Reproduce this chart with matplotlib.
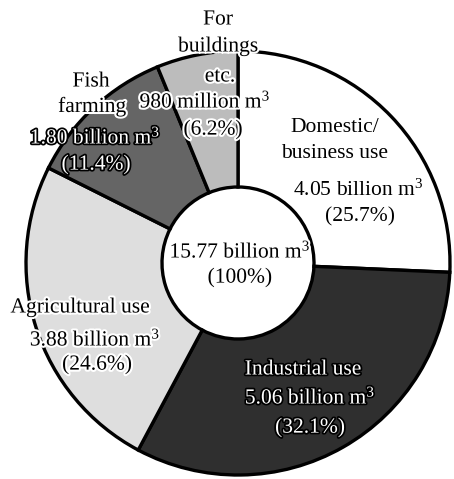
import matplotlib.pyplot as plt
import matplotlib.patheffects as pe

plt.rcParams['font.family'] = ['Liberation Serif', 'DejaVu Serif']
plt.rcParams['mathtext.fontset'] = 'custom'
plt.rcParams['mathtext.rm'] = 'Liberation Serif'
plt.rcParams['mathtext.it'] = 'Liberation Serif:italic'

# water use, billion m3, clockwise from the top
categories = ['Domestic/\nbusiness use', 'Industrial use', 'Agricultural use',
              'Fish\nfarming', 'For\nbuildings\netc.']
amounts = ['4.05 billion m$^3$', '5.06 billion m$^3$', '3.88 billion m$^3$',
           '1.80 billion m$^3$', '980 million m$^3$']
shares = [25.7, 32.1, 24.6, 11.4, 6.2]
colors = ['#ffffff', '#2f2f2f', '#dedede', '#656565', '#bcbcbc']
total_label = '15.77 billion m$^3$'
total_share = '(100%)'

W, H = 454, 479
fig = plt.figure(figsize=(W / 100, H / 100), dpi=100)
ax = fig.add_axes([0, 0, 1, 1])
ax.set_xlim(0, W)
ax.set_ylim(0, H)
ax.set_aspect('equal')
ax.axis('off')

cx, cy = 238, H - 263
r_out, r_in = 212, 76
ax.pie(shares, colors=colors, startangle=90, counterclock=False,
       center=(cx, cy), radius=r_out, frame=True,
       wedgeprops=dict(width=r_out - r_in, edgecolor='black', linewidth=2.4))
ax.set_xlim(0, W)
ax.set_ylim(0, H)
ax.axis('off')

halo = [pe.withStroke(linewidth=3, foreground='white')]
dark = [pe.withStroke(linewidth=2.5, foreground='black')]


def put(x, y, s, fx=None, color='black'):
    # x, y in pixels from the top left
    ax.text(x, H - y, s, ha='center', va='center', fontsize=15.5,
            color=color, path_effects=fx)


# domestic
put(335, 127, 'Domestic/')
put(335, 153, 'business use')
put(358, 190, amounts[0])
put(360, 217, '(%.1f%%)' % shares[0])
# industrial
put(303, 370, categories[1], dark, 'white')
put(310, 398, amounts[1], dark, 'white')
put(310, 428, '(%.1f%%)' % shares[1], dark, 'white')
# agricultural
put(80, 308, categories[2], halo)
put(95, 340, amounts[2], halo)
put(97, 365, '(%.1f%%)' % shares[2], halo)
# fish farming
put(91, 82, 'Fish', halo)
put(92, 107, 'farming', halo)
put(95, 138, amounts[3], dark, 'white')
put(96, 165, '(%.1f%%)' % shares[3], dark, 'white')
# buildings
put(218, 20, 'For', halo)
put(218, 47, 'buildings', halo)
put(220, 77, 'etc.', halo)
put(205, 102, amounts[4], halo)
put(213, 130, '(%.1f%%)' % shares[4], halo)
# total
put(240, 252, total_label, halo)
put(240, 278, total_share, halo)

fig.savefig('out.png', dpi=100, facecolor='white')
